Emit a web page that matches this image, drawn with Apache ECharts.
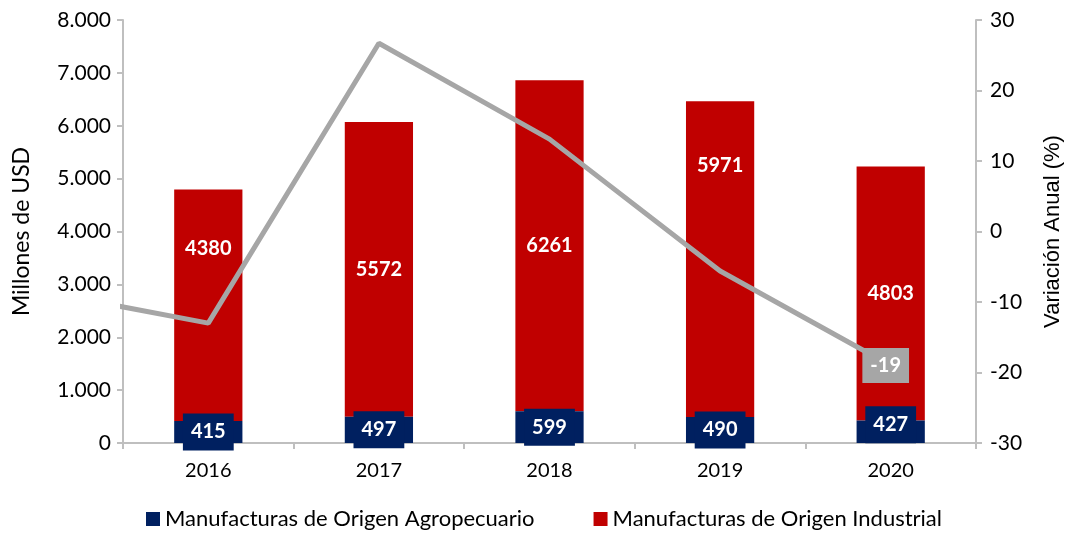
<!DOCTYPE html>
<html>
<head>
<meta charset="utf-8">
<script src="https://cdn.jsdelivr.net/npm/echarts@6/dist/echarts.min.js"></script>
<style>
  html, body { margin: 0; padding: 0; background: #fff; }
  #chart { width: 1072px; height: 539px; }
</style>
</head>
<body>
<div id="chart"></div>
<script>
// datos del grafico
var years = ['2016', '2017', '2018', '2019', '2020'];
var agro = [415, 497, 599, 490, 427];
var industrial = [4380, 5572, 6261, 5971, 4803];
// variacion anual (%), el primer punto es 2015 (queda recortado en el borde)
var varYears = [2015, 2016, 2017, 2018, 2019, 2020];
var variacion = [-8.4, -13.0, 26.7, 13.1, -5.6, -19];

var FONT = 'Lato';
var RED = '#C00000';
var NAVY = '#002060';
var GRAY = '#A6A6A6';

// desplazamiento de etiquetas para no tapar la linea
var labelShift = { 0: -57, 3: -94 };
var agroShift = { 4: -7 };

function miles(v) {
    return String(v).replace(/\B(?=(\d{3})+(?!\d))/g, '.');
}

var agroData = [];
for (var i = 0; i < agro.length; i++) {
    var a = { value: agro[i] };
    if (agroShift[i]) {
        a.label = { offset: [0, agroShift[i]] };
    }
    agroData.push(a);
}
var indData = [];
for (var i = 0; i < industrial.length; i++) {
    var item = { value: industrial[i] };
    if (labelShift[i]) {
        item.label = { offset: [0, labelShift[i]] };
    }
    indData.push(item);
}
var lineData = [];
for (var i = 0; i < variacion.length; i++) {
    var p = { value: [varYears[i] - 2016, variacion[i]] };
    if (i === variacion.length - 1) {
        p.label = {
            show: true,
            position: 'inside',
            offset: [-5, 0],
            formatter: function (d) { return d.value[1]; },
            color: '#fff',
            fontWeight: 'bold',
            fontSize: 20,
            fontFamily: FONT,
            backgroundColor: GRAY,
            padding: [8, 8, 7, 8]
        };
    }
    lineData.push(p);
}

var chart = echarts.init(document.getElementById('chart'));
var option = {
    backgroundColor: '#fff',
    animation: false,
    grid: { left: 123, right: 94, top: 20, bottom: 96 },
    legend: {
        left: 141,
        bottom: 4,
        itemWidth: 14,
        itemHeight: 14,
        itemGap: 59,
        icon: 'rect',
        textStyle: { fontSize: 22, color: '#000', fontFamily: FONT },
        data: ['Manufacturas de Origen Agropecuario', 'Manufacturas de Origen Industrial']
    },
    xAxis: [
        {
            type: 'category',
            data: years,
            axisLine: { lineStyle: { color: '#BFBFBF', width: 2 } },
            axisTick: { show: true, length: 6, lineStyle: { color: '#BFBFBF', width: 2 } },
            axisLabel: { fontSize: 20, color: '#000', fontFamily: FONT, margin: 18 }
        },
        {
            type: 'value',
            min: -0.5,
            max: 4.5,
            show: false
        }
    ],
    yAxis: [
        {
            type: 'value',
            min: 0,
            max: 8000,
            interval: 1000,
            name: 'Millones de USD',
            nameLocation: 'middle',
            nameRotate: 90,
            nameGap: 90,
            nameTextStyle: { fontSize: 23, color: '#000', fontFamily: FONT },
            splitLine: { show: false },
            axisLine: { show: true, onZero: false, lineStyle: { color: '#BFBFBF', width: 2 } },
            axisTick: { show: true, length: 6, lineStyle: { color: '#BFBFBF', width: 2 } },
            axisLabel: {
                fontSize: 21, color: '#000', fontFamily: FONT, margin: 12,
                formatter: function (v) { return miles(v); }
            }
        },
        {
            type: 'value',
            min: -30,
            max: 30,
            interval: 10,
            position: 'right',
            name: 'Variación Anual (%)',
            nameLocation: 'middle',
            nameRotate: 90,
            nameGap: 66,
            nameTextStyle: { fontSize: 22, color: '#000', fontFamily: 'Liberation Sans' },
            splitLine: { show: false },
            axisLine: { show: true, onZero: false, lineStyle: { color: '#BFBFBF', width: 2 } },
            axisTick: { show: true, length: 6, lineStyle: { color: '#BFBFBF', width: 2 } },
            axisLabel: { fontSize: 21, color: '#000', fontFamily: FONT, margin: 14 }
        }
    ],
    series: [
        {
            name: 'Manufacturas de Origen Agropecuario',
            type: 'bar',
            stack: 'total',
            barWidth: '40%',
            itemStyle: { color: NAVY },
            label: {
                show: true,
                position: 'inside',
                color: '#fff',
                fontWeight: 'bold',
                fontSize: 20,
                fontFamily: FONT,
                backgroundColor: NAVY,
                padding: [9, 8, 8, 8]
            },
            z: 3,
            data: agroData
        },
        {
            name: 'Manufacturas de Origen Industrial',
            type: 'bar',
            stack: 'total',
            itemStyle: { color: RED },
            label: {
                show: true,
                position: 'inside',
                color: '#fff',
                fontWeight: 'bold',
                fontSize: 20,
                fontFamily: FONT
            },
            z: 2,
            data: indData
        },
        {
            name: 'Variación',
            type: 'line',
            xAxisIndex: 1,
            yAxisIndex: 1,
            symbol: 'circle',
            symbolSize: 1,
            showSymbol: true,
            itemStyle: { color: GRAY },
            clip: true,
            lineStyle: { color: GRAY, width: 5 },
            z: 4,
            data: lineData
        }
    ]
};
chart.setOption(option);
</script>
</body>
</html>
